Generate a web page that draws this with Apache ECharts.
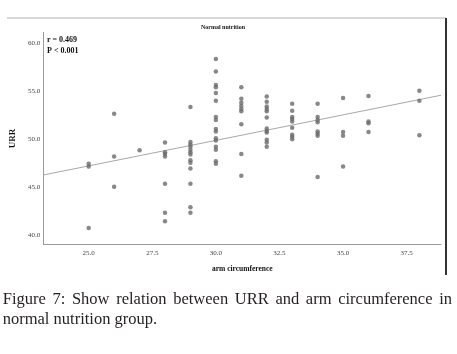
<!DOCTYPE html>
<html>
<head>
<meta charset="utf-8">
<script src="https://cdn.jsdelivr.net/npm/echarts@6/dist/echarts.min.js"></script>
<style>
html,body{margin:0;padding:0;background:#fff;}
#chart{width:457px;height:354px;}
</style>
</head>
<body>
<div id="chart"></div>
<script>
// Arm circumference (x) for each point, grouped by column
var armCircumference = [
  25,25,25,
  26,26,26,
  27,
  28,28,28,28,28,28,28,
  29,29,29,29,29,29,29,29,29,29,29,29,29,
  30,30,30,30,30,30,30,30,30,30,30,30,30,30,30,30,
  31,31,31,31,31,31,31,31,31,
  32,32,32,32,32,32,32,32,32,32,32,32,
  33,33,33,33,33,33,33,33,33,
  34,34,34,34,34,34,34,34,
  35,35,35,35,
  36,36,36,36,
  38,38,38
];
// URR (y) for each point, same order
var urr = [
  47.4,47.1,40.7,
  52.6,48.15,45.0,
  48.8,
  49.6,48.6,48.4,48.15,45.3,42.3,41.4,
  53.3,49.65,49.4,49.15,48.85,48.6,48.35,47.75,47.5,46.9,45.3,42.85,42.3,
  58.3,57.0,55.6,55.35,54.75,53.95,52.25,51.95,51.0,50.75,50.05,49.8,49.15,48.85,47.65,47.4,
  55.35,54.15,53.75,53.4,53.1,52.85,51.5,48.4,46.15,
  54.4,53.85,53.35,53.1,52.85,52.2,51.05,50.8,50.65,49.9,49.6,49.15,
  53.65,52.9,52.25,52.05,51.8,51.15,50.4,50.2,49.95,
  53.65,52.25,51.95,51.7,50.75,50.55,50.3,46.0,
  54.25,50.7,50.3,47.1,
  54.45,51.8,51.6,50.7,
  55.0,53.95,50.35
];
var xTickLabels = [25.0, 27.5, 30.0, 32.5, 35.0, 37.5];
var yTickLabels = [40.0, 45.0, 50.0, 55.0, 60.0];
var chartTitle = 'Normal nutrition';
var xAxisTitle = 'arm circumference';
var yAxisTitle = 'URR';
var statsLines = ['r = 0.469', 'P < 0.001'];
var captionLine1 = ['Figure', '7:', 'Show', 'relation', 'between', 'URR', 'and', 'arm', 'circumference', 'in'];
var captionLine2 = 'normal nutrition group.';

var xMin = 23.23, xMax = 38.85, yMin = 38.96, yMax = 61.08;

// least squares fit line computed from the data
var n = urr.length, sx = 0, sy = 0, sxx = 0, sxy = 0;
for (var i = 0; i < n; i++) {
  sx += armCircumference[i]; sy += urr[i];
  sxx += armCircumference[i] * armCircumference[i];
  sxy += armCircumference[i] * urr[i];
}
var slope = (n * sxy - sx * sy) / (n * sxx - sx * sx);
var intercept = (sy - slope * sx) / n;
var fitLine = [[xMin, intercept + slope * xMin], [xMax, intercept + slope * xMax]];

var points = armCircumference.map(function (x, i) { return [x, urr[i]]; });

var serif = 'Liberation Serif';
var capFont = '16.5px "' + serif + '"';
// justified first caption line: equal gaps between words
var cv = document.createElement('canvas').getContext('2d');
cv.font = capFont;
var widths = captionLine1.map(function (w) { return cv.measureText(w).width; });
var lineLeft = 2.7, lineRight = 452;
var totalW = widths.reduce(function (a, b) { return a + b; }, 0);
var gap = (lineRight - lineLeft - totalW) / (captionLine1.length - 1);
var cursor = lineLeft;
var captionGraphics = captionLine1.map(function (w, i) {
  var g = { type: 'text', x: cursor, y: 300, style: { text: w, font: capFont, fill: '#231f20', verticalAlign: 'middle' } };
  cursor += widths[i] + gap;
  return g;
});
captionGraphics.push({ type: 'text', x: lineLeft, y: 320, style: { text: captionLine2, font: capFont, fill: '#231f20', verticalAlign: 'middle' } });

var chart = echarts.init(document.getElementById('chart'), null, { renderer: 'canvas' });
chart.setOption({
  backgroundColor: '#ffffff',
  animation: false,
  grid: { left: 43.3, right: 16, top: 32.3, bottom: 109.3, containLabel: false },
  xAxis: {
    type: 'value', min: xMin, max: xMax,
    axisLine: { show: true, lineStyle: { color: '#9a9a9a', width: 1 } },
    axisTick: { show: false },
    splitLine: { show: false },
    axisLabel: {
      customValues: xTickLabels, margin: 5,
      formatter: function (v) { return v.toFixed(1); },
      fontFamily: serif, fontSize: 7, color: '#444'
    },
    name: xAxisTitle, nameLocation: 'middle', nameGap: 20,
    nameTextStyle: { fontFamily: serif, fontSize: 7.5, fontWeight: 'bold', color: '#111' }
  },
  yAxis: {
    type: 'value', min: yMin, max: yMax,
    axisLine: { show: true, lineStyle: { color: '#9a9a9a', width: 1 } },
    axisTick: { show: false },
    splitLine: { show: false },
    axisLabel: {
      customValues: yTickLabels, margin: 3.5,
      formatter: function (v) { return v.toFixed(1); },
      fontFamily: serif, fontSize: 7, color: '#444'
    },
    name: yAxisTitle, nameLocation: 'middle', nameGap: 22, nameRotate: 90,
    nameTextStyle: { fontFamily: serif, fontSize: 9, fontWeight: 'bold', color: '#111' }
  },
  series: [
    {
      type: 'line', data: fitLine, symbol: 'none', silent: true,
      lineStyle: { color: '#a8a8a8', width: 1 }, z: 1
    },
    {
      type: 'scatter', data: points, symbol: 'circle', symbolSize: 4.5,
      itemStyle: { color: '#6a6a6a' }, z: 2
    }
  ],
  graphic: [
    { type: 'line', shape: { x1: 7, y1: 18, x2: 446, y2: 18 }, style: { stroke: '#b0b0b0', lineWidth: 1 } },
    { type: 'line', shape: { x1: 446, y1: 18, x2: 446, y2: 275 }, style: { stroke: '#333', lineWidth: 2 } },
    { type: 'text', x: 223, y: 27.5, style: { text: chartTitle, font: 'bold 6px "' + serif + '"', fill: '#111', align: 'center', verticalAlign: 'middle' } },
    { type: 'text', x: 47, y: 40, style: { text: statsLines[0], font: 'bold 8px "' + serif + '"', fill: '#111', verticalAlign: 'middle' } },
    { type: 'text', x: 47, y: 51, style: { text: statsLines[1], font: 'bold 8px "' + serif + '"', fill: '#111', verticalAlign: 'middle' } }
  ].concat(captionGraphics)
});
</script>
</body>
</html>
